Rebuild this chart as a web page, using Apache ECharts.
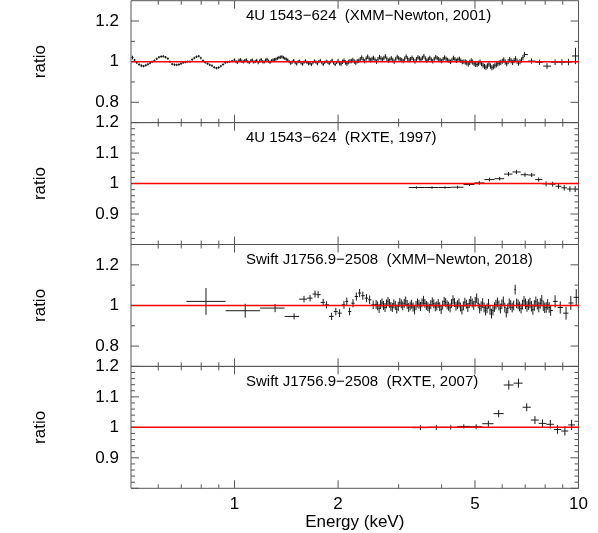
<!DOCTYPE html>
<html><head><meta charset="utf-8">
<script src="https://cdn.jsdelivr.net/npm/echarts@6/dist/echarts.min.js"></script>
<style>html,body{margin:0;padding:0;background:#fff}#c{width:598px;height:533px}</style>
</head><body><div id="c"></div>
<script>
// ---------- text ----------
const panelTitles = [
  "4U 1543\u2212624  (XMM\u2212Newton, 2001)",
  "4U 1543\u2212624  (RXTE, 1997)",
  "Swift J1756.9\u22122508  (XMM\u2212Newton, 2018)",
  "Swift J1756.9\u22122508  (RXTE, 2007)"
];
const yAxisName = "ratio";
const xAxisName = "Energy (keV)";

// ---------- axes ----------
const xRange = [0.5, 10];
const xLabelValues = [1, 2, 5, 10];
const xMajorTicks = [1, 2, 5, 10];
const xMinorTicks = [0.6, 0.7, 0.8, 0.9, 3, 4, 6, 7, 8, 9];
const yRangeWide = [0.7, 1.3];
const yRangeNarrow = [0.8, 1.2];
const yLabelsWide = [0.8, 1, 1.2];
const yLabelsNarrow = [0.9, 1, 1.1, 1.2];
const yMajorWide = [0.8, 1, 1.2];
const yMinorWide = [0.9, 1.1];
const yMajorNarrow = [0.8, 0.9, 1, 1.1, 1.2];
const yMinorNarrow = [0.82, 0.84, 0.86, 0.88, 0.92, 0.94, 0.96, 0.98, 1.02, 1.04, 1.06, 1.08, 1.12, 1.14, 1.16, 1.18];

// ---------- model (ratio = 1) ----------
const modelE = [0.5, 10];
const modelRatio = [1, 1];

// ---------- panel 1: 4U 1543-624 XMM 2001 (two interleaved sets of channels) ----------
const energy1 = [0.505,0.52,0.536,0.552,0.568,0.585,0.603,0.621,0.64,0.659,0.679,0.699,0.72,0.742,0.764,0.787,0.81,0.835,0.86,0.886,0.912,0.94,0.968,
 1.0,1.02,1.04,1.061,1.082,1.104,1.126,1.149,1.172,1.195,1.219,1.243,1.268,1.294,1.319,1.346,1.373,1.4,1.428,1.457,1.486,1.516,1.546,1.577,1.608,1.641,1.673,1.707,1.741,1.776,1.811,1.848,1.885,1.922,1.961,
 2.0,2.04,2.081,2.122,2.165,2.208,2.252,2.297,2.343,2.39,2.438,2.487,2.536,2.587,2.639,2.692,2.745,2.8,2.856,2.913,2.972,3.031,3.092,3.154,3.217,3.281,3.347,3.414,3.482,3.552,3.623,3.695,3.769,3.845,3.921,4.0,4.08,4.162,4.245,4.33,4.416,4.505,4.595,
 4.687,4.78,4.876,4.973,5.073,5.174,5.278,5.383,5.491,5.601,5.713,5.827,5.944,6.062,6.184,6.307,6.433,6.562,6.693,6.827,6.964,
 7.3,7.7,8.1,8.55,8.95,9.35,9.8];
const ratio1 = [1.02,0.995,0.98,0.982,0.993,1.005,1.022,1.026,1.015,0.988,0.984,0.99,0.998,1.0,1.018,1.027,1.005,0.99,0.98,0.968,0.978,0.995,1.0,
 1.008,0.997,1.01,0.999,1.009,0.996,1.008,1.001,0.995,1.01,0.998,1.011,0.997,1.008,
 1.012,1.02,1.024,1.016,1.008,
 0.992,1.005,0.989,1.002,0.988,1.004,0.99,0.986,1.003,0.99,1.006,0.987,1.002,0.991,1.007,0.986,1.003,0.989,1.005,0.99,1.002,1.008,0.995,
 1.004,1.02,1.002,1.024,1.008,1.018,1.0,1.022,1.01,1.026,1.005,1.017,1.0,1.023,1.012,1.003,1.025,1.008,1.019,1.001,1.021,1.01,1.027,1.005,1.018,1.002,1.022,1.012,1.003,1.02,1.008,0.999,1.018,1.004,1.014,0.998,
 0.998,0.988,1.004,0.99,0.986,0.998,
 0.982,0.972,0.988,0.97,0.98,0.99,
 0.996,1.008,0.99,1.01,0.996,1.014,0.993,1.008,1.035,
 1.003,0.997,0.978,0.997,0.997,0.998,1.028];
const error1 = [0.009,0.007,0.007,0.006,0.006,0.006,0.006,0.006,0.006,0.006,0.006,0.006,0.006,0.006,0.006,0.006,0.006,0.006,0.006,0.006,0.006,0.006,0.006,
 0.008,0.008,0.008,0.008,0.008,0.008,0.008,0.008,0.008,0.008,0.008,0.008,0.008,0.008,0.008,0.008,0.008,0.008,0.008,0.008,0.008,0.008,0.008,0.008,0.008,0.008,0.008,0.008,0.008,0.008,0.008,0.008,0.008,0.008,0.008,
 0.011,0.011,0.011,0.011,0.011,0.011,0.011,0.011,0.011,0.011,0.011,0.011,0.011,0.011,0.011,0.011,0.011,0.011,0.011,0.011,0.011,0.011,0.011,0.011,0.011,0.011,0.011,0.011,0.011,0.011,0.011,0.011,0.011,0.011,0.011,0.011,0.011,0.011,0.011,0.011,0.011,0.011,0.011,
 0.013,0.013,0.013,0.013,0.013,0.013,0.013,0.013,0.013,0.013,0.013,0.013,0.013,0.013,0.013,0.013,0.013,0.013,0.013,0.013,0.013,
 0.013,0.013,0.014,0.014,0.015,0.016,0.04];
const energy1b = [0.512,0.528,0.544,0.56,0.576,0.594,0.612,0.63,0.649,0.669,0.689,0.709,0.731,0.753,0.775,0.798,0.822,0.847,0.873,0.899,0.926,0.954,0.984,
 1.01,1.03,1.05,1.071,1.093,1.115,1.137,1.16,1.183,1.207,1.231,1.255,1.281,1.306,1.332,1.359,1.386,1.414,1.442,1.471,1.501,1.531,1.561,1.592,1.624,1.657,1.69,1.724,1.758,1.793,1.829,1.866,1.903,1.941,1.98,
 2.02,2.06,2.101,2.143,2.186,2.23,2.274,2.32,2.366,2.414,2.462,2.511,2.561,2.613,2.665,2.718,2.772,2.828,2.884,2.942,3.001,3.061,3.123,3.185,3.249,3.314,3.38,3.448,3.517,3.587,3.659,3.732,3.807,3.883,3.96,4.04,4.121,4.203,4.287,4.373,4.46,4.55,4.641,
 4.733,4.828,4.924,5.023,5.123,5.226,5.33,5.437,5.546,5.657,5.77,5.885,6.003,6.123,6.245,6.37,6.497,6.627,6.76,6.895];
const ratio1b = [1.008,0.986,0.978,0.987,0.999,1.014,1.025,1.022,1.0,0.985,0.986,0.995,1.0,1.01,1.024,1.018,0.996,0.984,0.972,0.971,0.986,0.998,1.003,
 1.0,1.006,1.002,1.005,1.0,1.004,0.998,1.006,1.003,1.0,1.007,1.002,1.004,
 1.01,1.016,1.022,1.02,1.012,1.0,
 0.998,0.995,1.0,0.994,0.997,0.996,0.993,0.995,0.998,1.0,0.995,0.996,0.998,0.999,0.994,0.996,0.993,0.999,0.996,0.998,1.003,1.0,
 1.002,
 1.012,1.01,1.015,1.014,1.013,1.009,1.012,1.016,1.018,1.014,1.01,1.008,1.013,1.016,1.008,1.014,1.015,1.012,1.009,1.012,1.016,1.018,1.015,1.011,1.01,1.013,1.017,1.008,1.012,1.014,1.004,1.008,1.012,1.01,1.005,
 1.0,
 0.994,0.996,0.998,0.987,0.992,
 0.99,
 0.976,0.979,0.978,0.975,0.985,
 0.993,
 1.002,0.998,1.0,1.004,1.005,1.002,1.0,1.02];
const error1b = [0.006,0.006,0.006,0.006,0.006,0.006,0.006,0.006,0.006,0.006,0.006,0.006,0.006,0.006,0.006,0.006,0.006,0.006,0.006,0.006,0.006,0.006,0.006,
 0.008,0.008,0.008,0.008,0.008,0.008,0.008,0.008,0.008,0.008,0.008,0.008,0.008,0.008,0.008,0.008,0.008,0.008,0.008,0.008,0.008,0.008,0.008,0.008,0.008,0.008,0.008,0.008,0.008,0.008,0.008,0.008,0.008,0.008,0.008,
 0.011,0.011,0.011,0.011,0.011,0.011,0.011,0.011,0.011,0.011,0.011,0.011,0.011,0.011,0.011,0.011,0.011,0.011,0.011,0.011,0.011,0.011,0.011,0.011,0.011,0.011,0.011,0.011,0.011,0.011,0.011,0.011,0.011,0.011,0.011,0.011,0.011,0.011,0.011,0.011,0.011,0.011,0.011,
 0.013,0.013,0.013,0.013,0.013,0.013,0.013,0.013,0.013,0.013,0.013,0.013,0.013,0.013,0.013,0.013,0.013,0.013,0.013,0.013];

// ---------- panel 2: 4U 1543-624 RXTE 1997 ----------
const energy2 = [3.38,3.75,4.09,4.45,4.82,5.15,5.51,5.9,6.26,6.6,6.99,7.31,7.66,8.05,8.41,8.75,9.09,9.44,9.78];
const ratio2 = [0.987,0.987,0.987,0.988,0.997,1.002,1.013,1.016,1.031,1.038,1.029,1.028,1.013,0.999,0.998,0.991,0.986,0.982,0.982];
const error2 = [0.004,0.004,0.004,0.005,0.005,0.006,0.006,0.006,0.007,0.007,0.007,0.007,0.007,0.008,0.008,0.008,0.009,0.009,0.01];

// ---------- panel 3: Swift J1756.9-2508 XMM 2018 ----------
const energy3 = [0.826,1.074,1.312,1.49,
 1.592,1.658,1.714,1.75,1.81,1.85,1.915,1.97,2.02,2.08,2.12,2.16,2.21,2.26,2.31,2.36,2.42,2.47,2.53,
 2.58,2.606,2.632,2.658,2.684,2.711,2.738,2.765,2.793,2.82,
 2.848,2.876,2.905,2.934,2.963,2.993,3.023,3.053,3.083,3.114,
 3.145,3.176,3.208,3.24,3.272,3.304,3.337,3.37,3.404,3.438,
 3.472,3.507,3.542,3.577,3.612,3.648,3.685,3.721,3.758,3.796,
 3.834,3.872,3.91,3.949,3.988,4.028,4.068,4.109,4.15,4.191,
 4.233,4.275,4.317,4.36,4.404,4.448,4.492,4.537,4.582,4.627,
 4.673,4.72,4.767,4.814,4.862,4.91,4.959,5.008,5.058,5.109,
 5.16,5.211,5.263,5.315,5.368,5.422,5.476,5.53,5.585,5.641,
 5.697,5.754,5.811,5.869,5.927,5.986,6.046,6.106,6.166,6.228,
 6.29,6.352,6.415,6.479,6.544,6.609,6.674,6.741,6.808,6.876,
 6.944,7.013,7.083,7.153,7.224,7.296,7.369,7.442,7.516,7.591,
 7.666,7.743,7.82,7.898,7.976,8.056,8.136,8.217,8.298,
 8.55,8.85,9.2,9.5,9.85];
const ratio3 = [1.02,0.974,0.987,0.946,
 1.031,1.036,1.056,1.053,1.015,1.003,0.946,0.97,0.962,1.003,1.02,0.97,1.011,1.044,1.061,1.048,1.036,1.028,1.003,
 1.005,0.998,0.985,1.004,1.012,1.0,0.99,1.008,1.02,1.01,
 0.995,0.99,1.008,1.0,0.982,0.996,1.015,1.008,0.998,1.01,
 1.022,1.005,0.99,0.997,1.006,0.992,0.978,1.0,1.012,1.006,
 0.995,1.012,1.025,1.01,1.0,0.994,0.986,1.004,1.018,1.008,
 0.993,0.998,1.01,0.994,0.98,1.002,1.02,1.014,1.003,0.996,
 0.988,1.01,1.028,1.014,0.996,1.004,1.012,0.992,0.978,0.998,
 1.016,1.006,0.99,1.01,1.024,1.012,1.0,1.018,1.035,1.01,
 0.985,0.996,1.012,0.99,0.975,0.986,1.008,0.978,0.96,0.975,
 0.992,1.004,1.015,1.0,0.985,1.006,1.02,0.99,0.965,0.985,
 1.01,1.002,0.99,1.0,1.078,1.01,1.005,0.995,0.985,1.004,
 1.022,1.008,0.995,1.004,1.012,0.996,0.98,1.0,1.018,1.006,
 0.992,1.01,1.025,0.998,0.988,0.99,1.005,0.99,0.975,
 1.02,0.99,0.962,1.012,1.04];
const error3 = [0.066,0.034,0.02,0.015,
 0.016,0.016,0.017,0.017,0.018,0.018,0.018,0.018,0.019,0.019,0.019,0.019,0.02,0.02,0.02,0.02,0.02,0.021,0.021,
 0.022,0.022,0.022,0.022,0.022,0.022,0.022,0.022,0.022,0.022,
 0.022,0.022,0.022,0.022,0.022,0.022,0.022,0.022,0.022,0.022,
 0.022,0.022,0.022,0.022,0.022,0.022,0.022,0.022,0.022,0.022,
 0.022,0.022,0.022,0.022,0.022,0.022,0.022,0.022,0.022,0.022,
 0.022,0.022,0.022,0.022,0.022,0.022,0.022,0.022,0.022,0.022,
 0.022,0.022,0.022,0.022,0.022,0.022,0.022,0.022,0.022,0.022,
 0.022,0.022,0.022,0.022,0.022,0.022,0.022,0.024,0.024,0.024,
 0.024,0.024,0.024,0.024,0.024,0.024,0.024,0.024,0.024,0.024,
 0.024,0.024,0.024,0.024,0.024,0.024,0.024,0.024,0.024,0.024,
 0.024,0.024,0.024,0.024,0.024,0.024,0.024,0.024,0.024,0.024,
 0.024,0.026,0.026,0.026,0.026,0.026,0.026,0.026,0.026,0.026,
 0.026,0.026,0.026,0.026,0.026,0.026,0.026,0.026,0.026,
 0.03,0.03,0.032,0.034,0.04];

// ---------- panel 4: Swift J1756.9-2508 RXTE 2007 ----------
const energy4 = [3.47,3.86,4.25,4.64,5.04,5.47,5.86,6.27,6.69,7.07,7.47,7.86,8.28,8.69,9.13,9.55];
const ratio4 = [0.999,1.0,1.0,1.003,1.002,1.012,1.045,1.139,1.145,1.066,1.024,1.013,1.01,0.993,0.988,1.008];
const error4 = [0.008,0.008,0.007,0.007,0.008,0.01,0.012,0.015,0.015,0.013,0.013,0.013,0.014,0.014,0.015,0.017];

// ---------- build ----------
const FONT = "'Liberation Sans', Arial, Helvetica, sans-serif";
const AXIS_COLOR = '#555';
const DATA_COLOR = '#1a1a1a';

function toRows(E, R, S) { return E.map((e, k) => [e, R[k], S[k]]); }
const rows1 = toRows(energy1, ratio1, error1).concat(toRows(energy1b, ratio1b, error1b)).sort((a, b) => a[0] - b[0]);

const panels = [
  {rows: rows1, yr: yRangeWide, yl: yLabelsWide, yMaj: yMajorWide, yMin: yMinorWide},
  {rows: toRows(energy2, ratio2, error2), yr: yRangeNarrow, yl: yLabelsNarrow, yMaj: yMajorNarrow, yMin: yMinorNarrow},
  {rows: toRows(energy3, ratio3, error3), yr: yRangeWide, yl: yLabelsWide, yMaj: yMajorWide, yMin: yMinorWide},
  {rows: toRows(energy4, ratio4, error4), yr: yRangeNarrow, yl: yLabelsNarrow, yMaj: yMajorNarrow, yMin: yMinorNarrow}
];
const tops = [0.7, 122.6, 244.5, 366.4];
const gridH = 121.9, gridL = 131, gridW = 447.5;

function binEdges(E) {
  return E.map((e, i) => {
    const lo = i > 0 ? Math.sqrt(E[i-1]*e) : e*e/Math.sqrt(e*E[i+1]);
    const hi = i < E.length-1 ? Math.sqrt(e*E[i+1]) : e*e/Math.sqrt(E[i-1]*e);
    return [lo, hi];
  });
}

function renderErr(params, api) {
  const e = api.value(0), lo = api.value(1), hi = api.value(2), y = api.value(3), s = api.value(4);
  const a = api.coord([lo, y]), b = api.coord([hi, y]);
  const c = api.coord([e, y - s]), d = api.coord([e, y + s]);
  const st = {stroke: DATA_COLOR, lineWidth: 1, fill: null};
  return {type: 'group', children: [
    {type: 'line', shape: {x1: a[0], y1: a[1], x2: b[0], y2: b[1]}, style: st},
    {type: 'line', shape: {x1: c[0], y1: c[1], x2: d[0], y2: d[1]}, style: st}
  ]};
}

function renderTick(params, api) {
  const cs = params.coordSys;
  const v = api.value(0), isY = api.value(1), major = api.value(2);
  const len = major ? 8 : 4;
  const st = {stroke: AXIS_COLOR, lineWidth: 1};
  if (!isY) {
    const px = api.coord([v, 1])[0];
    return {type: 'group', children: [
      {type: 'line', shape: {x1: px, y1: cs.y + cs.height, x2: px, y2: cs.y + cs.height - len}, style: st},
      {type: 'line', shape: {x1: px, y1: cs.y, x2: px, y2: cs.y + len}, style: st}
    ]};
  }
  const py = api.coord([1, v])[1];
  return {type: 'group', children: [
    {type: 'line', shape: {x1: cs.x, y1: py, x2: cs.x + len, y2: py}, style: st},
    {type: 'line', shape: {x1: cs.x + cs.width, y1: py, x2: cs.x + cs.width - len, y2: py}, style: st}
  ]};
}

function yFmt(list) {
  return v => {
    const r = Math.round(v * 100) / 100;
    return list.some(l => Math.abs(l - r) < 1e-6) ? String(r) : '';
  };
}

const grid = [], xAxis = [], yAxis = [], series = [], title = [];
panels.forEach((p, i) => {
  grid.push({left: gridL, top: tops[i], width: gridW, height: gridH, show: true,
    borderColor: AXIS_COLOR, borderWidth: 1, backgroundColor: 'transparent', outerBoundsMode: 'none'});
  const last = i === panels.length - 1;
  xAxis.push({type: 'log', gridIndex: i, min: xRange[0], max: xRange[1], logBase: 10,
    axisLine: {show: false}, axisTick: {show: false}, minorTick: {show: false}, splitLine: {show: false},
    axisLabel: {show: last, customValues: xLabelValues, fontSize: 17, color: '#000', fontFamily: FONT, margin: 8,
      formatter: v => String(Math.round(v * 100) / 100)},
    name: last ? xAxisName : '', nameLocation: 'middle', nameGap: 26, nameMoveOverlap: false,
    nameTextStyle: {fontSize: 17, color: '#000', fontFamily: FONT}});
  yAxis.push({type: 'value', gridIndex: i, min: p.yr[0], max: p.yr[1], interval: 0.1,
    axisLine: {show: false}, axisTick: {show: false}, minorTick: {show: false}, splitLine: {show: false},
    axisLabel: {fontSize: 17, color: '#000', fontFamily: FONT, margin: 12, formatter: yFmt(p.yl),
      showMinLabel: true, showMaxLabel: true},
    name: yAxisName, nameLocation: 'middle', nameGap: 82, nameRotate: 90, nameMoveOverlap: false,
    nameTextStyle: {fontSize: 17, color: '#000', fontFamily: FONT}});
  title.push({text: panelTitles[i], left: 246, top: tops[i] + 8, padding: 0,
    textStyle: {fontSize: 15, fontWeight: 'normal', color: '#000', fontFamily: FONT}});

  const E = p.rows.map(r => r[0]);
  const edges = binEdges(E);
  const errData = p.rows.map((r, k) => [r[0], edges[k][0], edges[k][1], r[1], r[2]]);
  series.push({type: 'custom', xAxisIndex: i, yAxisIndex: i, data: errData, renderItem: renderErr,
    clip: true, silent: true, z: 2, encode: {x: 0, y: 3}});

  const ticks = [];
  xMajorTicks.forEach(v => ticks.push([v, 0, 1]));
  xMinorTicks.forEach(v => ticks.push([v, 0, 0]));
  p.yMaj.forEach(v => ticks.push([v, 1, 1]));
  p.yMin.forEach(v => ticks.push([v, 1, 0]));
  series.push({type: 'custom', xAxisIndex: i, yAxisIndex: i, data: ticks, renderItem: renderTick,
    silent: true, z: 5});

  series.push({type: 'line', xAxisIndex: i, yAxisIndex: i, data: modelE.map((e, k) => [e, modelRatio[k]]),
    symbol: 'none', silent: true, z: 6, lineStyle: {color: '#ff0000', width: 1.5, opacity: 1}});
});

const chart = echarts.init(document.getElementById('c'), null, {renderer: 'canvas'});
chart.setOption({animation: false, backgroundColor: '#fff', title, grid, xAxis, yAxis, series});
</script></body></html>
